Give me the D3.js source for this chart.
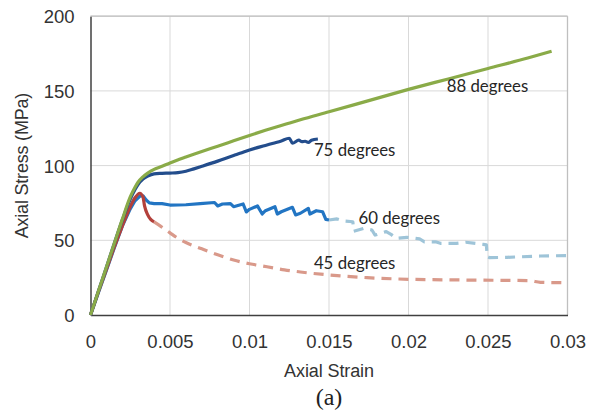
<!DOCTYPE html>
<html>
<head>
<meta charset="utf-8">
<script src="https://cdn.jsdelivr.net/npm/d3@7"></script>
<style>
  html, body { margin: 0; padding: 0; background: #fff; }
  svg { display: block; }
</style>
</head>
<body>
<svg id="chart" width="598" height="414"></svg>
<script>
// ---- Data (strain, stress MPa) ----
const xTicks = [0, 0.005, 0.01, 0.015, 0.02, 0.025, 0.03];
const xTickLabels = ["0", "0.005", "0.01", "0.015", "0.02", "0.025", "0.03"];
const yTicks = [0, 50, 100, 150, 200];
const yTickLabels = ["0", "50", "100", "150", "200"];

const deg88 = [[0,0],[0.0005,16],[0.001,32],[0.0015,48],[0.002,64],[0.0025,79],[0.0028,85.5],[0.003,89],[0.0033,92.5],[0.0036,95],[0.004,97.5],[0.0045,99.5],[0.005,101.8],[0.006,105.8],[0.007,109.5],[0.008,113],[0.009,116.6],[0.01,120.2],[0.011,123.6],[0.0123,127.8],[0.0132,130.7],[0.015,136],[0.0175,143.5],[0.02,151],[0.0225,158],[0.025,165],[0.0275,172],[0.029,176.5]];

const deg75 = [[0,0],[0.0005,16],[0.001,32],[0.0015,48],[0.002,63.5],[0.0025,77.5],[0.0028,84],[0.003,87.5],[0.0033,91],[0.0036,93],[0.004,94.5],[0.0045,94.8],[0.005,95],[0.0055,95.3],[0.006,96.2],[0.0065,97.8],[0.007,99.5],[0.008,103],[0.009,106.8],[0.0094,108.2],[0.01,110.5],[0.011,113.5],[0.0115,115],[0.012,116.5],[0.0125,118.3],[0.0127,115],[0.0131,117],[0.0133,116],[0.0135,116.3],[0.0137,115.5],[0.0139,117],[0.0143,117.8]];

const deg60Solid = [[0,0],[0.0005,15],[0.001,30],[0.0015,45],[0.002,59.5],[0.0025,71],[0.0028,76.5],[0.0031,79.5],[0.0033,79.8],[0.0035,77],[0.0037,75],[0.004,74.5],[0.0045,74.5],[0.005,73.6],[0.006,73.8],[0.0069,74.5],[0.0078,75.3],[0.008,73],[0.0083,74.3],[0.0088,74.5],[0.009,72.5],[0.0096,74.3],[0.0098,69],[0.01,70.7],[0.0105,73],[0.0108,67.6],[0.011,69.8],[0.0116,72.5],[0.01175,67.6],[0.012,69.1],[0.0127,72.1],[0.0129,67],[0.0132,68.1],[0.0137,71.4],[0.0138,67.6],[0.0142,69.8],[0.0146,69.1],[0.0148,64],[0.015,63.6]];

const deg60Dashed = [[0.015,63.6],[0.0155,64.3],[0.0159,62.9],[0.0165,62.4],[0.01655,56],[0.0172,58],[0.0177,56.9],[0.0179,53.5],[0.0186,55.8],[0.0189,54],[0.0192,51.3],[0.0199,52],[0.0207,50.9],[0.021,49],[0.0217,49],[0.022,48],[0.023,48],[0.0236,48.7],[0.0247,47.3],[0.0249,46.9],[0.02495,39],[0.0251,38.4],[0.0262,38.6],[0.0283,39.5],[0.03,39.8]];

const deg45Solid = [[0,0],[0.0005,15.5],[0.001,30.5],[0.0015,45.5],[0.002,59.5],[0.0025,72.5],[0.0028,78.5],[0.0031,81.5],[0.0033,79],[0.0034,73],[0.0036,67],[0.0038,63.8],[0.004,62.3]];

const deg45Dashed = [[0.004,62.3],[0.0044,59.5],[0.005,55],[0.0054,52],[0.006,48.5],[0.007,44.3],[0.008,40.3],[0.009,36.8],[0.01,34.3],[0.0111,32.3],[0.0122,30.2],[0.0132,28.8],[0.015,26.8],[0.0174,25],[0.02,23.9],[0.0237,23.4],[0.0276,23],[0.0283,21.9],[0.03,21.6]];

const labels = [
  {text: "88 degrees", x: 0.0224, y: 149},
  {text: "75 degrees", x: 0.01405, y: 106.5},
  {text: "60 degrees", x: 0.01685, y: 61},
  {text: "45 degrees", x: 0.01405, y: 31}
];

// ---- Drawing ----
const svg = d3.select("#chart");
const x = d3.scaleLinear().domain([0, 0.03]).range([90.5, 567.5]);
const y = d3.scaleLinear().domain([0, 200]).range([315, 16.2]);

// gridlines
svg.append("g").selectAll("line.v").data(xTicks.slice(1)).join("line")
  .attr("x1", d => x(d)).attr("x2", d => x(d))
  .attr("y1", y(0)).attr("y2", y(200))
  .attr("stroke", "#d9d9d9").attr("stroke-width", 1);
svg.append("g").selectAll("line.h").data(yTicks.slice(1)).join("line")
  .attr("x1", x(0)).attr("x2", x(0.03))
  .attr("y1", d => y(d)).attr("y2", d => y(d))
  .attr("stroke", "#d9d9d9").attr("stroke-width", 1);

// frame top/right
svg.append("line").attr("x1", x(0)).attr("x2", x(0.03)).attr("y1", y(200)).attr("y2", y(200))
  .attr("stroke", "#bfbfbf").attr("stroke-width", 1.3);
svg.append("line").attr("x1", x(0.03)).attr("x2", x(0.03)).attr("y1", y(0)).attr("y2", y(200))
  .attr("stroke", "#bfbfbf").attr("stroke-width", 1.3);

// axes
const xAxis = d3.axisBottom(x).tickValues(xTicks).tickFormat((d, i) => xTickLabels[i]).tickSize(0).tickPadding(16);
const yAxis = d3.axisLeft(y).tickValues(yTicks).tickFormat((d, i) => yTickLabels[i]).tickSize(0).tickPadding(16);

const gx = svg.append("g").attr("transform", `translate(0,${y(0)})`).call(xAxis);
const gy = svg.append("g").attr("transform", `translate(${x(0)},0)`).call(yAxis);
[gx, gy].forEach(g => {
  g.select(".domain").attr("stroke", "#404040").attr("stroke-width", 1.5);
  g.selectAll("text").attr("font-family", "'Liberation Sans', Arial, sans-serif")
    .attr("font-size", "18.5px").attr("fill", "#333");
});
gx.selectAll("text").attr("dy", "0.71em").attr("y", 19.5);
gy.selectAll("text").attr("x", -16).attr("dy", "0.35em");

// lines
const line = d3.line().x(d => x(d[0])).y(d => y(d[1]));
const smooth = d3.line().x(d => x(d[0])).y(d => y(d[1])).curve(d3.curveMonotoneX);

const series = [
  {data: deg60Dashed, color: "#9ec4d8", dash: "10,7", gen: line},
  {data: deg45Dashed, color: "#d9998a", dash: "10,7", gen: smooth},
  {data: deg60Solid, color: "#2275c3", dash: null, gen: line},
  {data: deg45Solid, color: "#b3403b", dash: null, gen: smooth},
  {data: deg75, color: "#234d8c", dash: null, gen: smooth},
  {data: deg88, color: "#8aab48", dash: null, gen: smooth}
];
svg.append("g").selectAll("path").data(series).join("path")
  .attr("d", d => d.gen(d.data))
  .attr("fill", "none")
  .attr("stroke", d => d.color)
  .attr("stroke-width", 3.2)
  .attr("stroke-linejoin", "round")
  .attr("stroke-linecap", "butt")
  .attr("stroke-dasharray", d => d.dash);

// annotations
svg.append("g").selectAll("text").data(labels).join("text")
  .attr("x", d => x(d.x)).attr("y", d => y(d.y))
  .attr("font-family", "Lato, 'Open Sans', sans-serif")
  .attr("font-size", "16.8px").attr("fill", "#262626")
  .text(d => d.text);

// axis titles
svg.append("text").attr("x", (x(0) + x(0.03)) / 2).attr("y", 377)
  .attr("text-anchor", "middle")
  .attr("font-family", "'Liberation Sans', Arial, sans-serif")
  .attr("font-size", "18px").attr("fill", "#333")
  .attr("letter-spacing", "-0.1px")
  .text("Axial Strain");
svg.append("text")
  .attr("transform", `translate(28,${(y(0) + y(200)) / 2}) rotate(-90)`)
  .attr("text-anchor", "middle")
  .attr("font-family", "'Liberation Sans', Arial, sans-serif")
  .attr("font-size", "18px").attr("fill", "#333")
  .attr("letter-spacing", "-0.2px")
  .text("Axial Stress (MPa)");

svg.append("text").attr("x", 329).attr("y", 405)
  .attr("text-anchor", "middle")
  .attr("font-family", "'Liberation Serif', 'Times New Roman', serif")
  .attr("font-size", "24px").attr("fill", "#222")
  .text("(a)");
</script>
</body>
</html>
